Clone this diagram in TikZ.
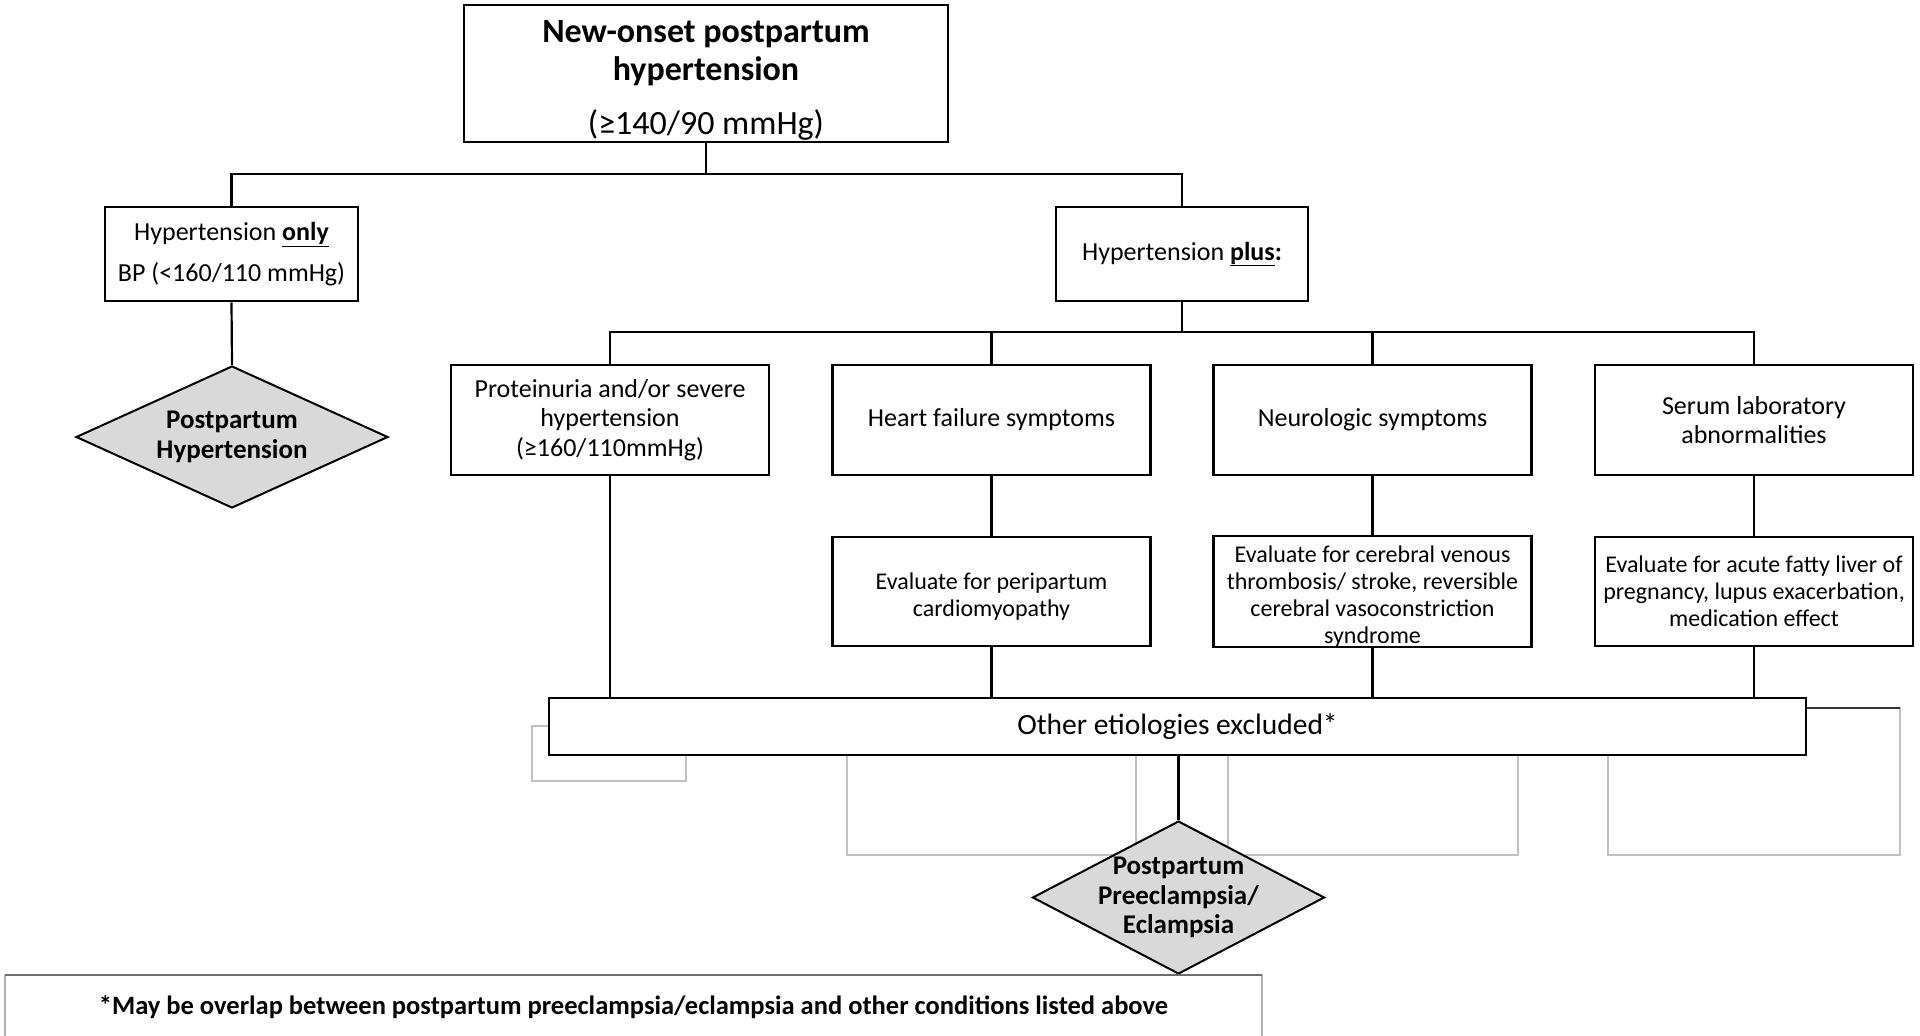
\documentclass[tikz,border=0pt]{standalone}
\usepackage{fontspec}
\setmainfont{Carlito}
\usetikzlibrary{shapes.geometric}
\definecolor{diafill}{RGB}{217,217,217}
\definecolor{faint}{RGB}{192,192,192}
\definecolor{footline}{RGB}{110,110,110}
\definecolor{footside}{RGB}{175,175,175}
\begin{document}
\begin{tikzpicture}[x=1pt,y=-1pt,
  box/.style={draw, line width=2.8pt, fill=white, inner sep=0pt, align=center},
  rowbox/.style={box, minimum width=318pt, minimum height=110pt, font=\fontsize{26}{29.5}\selectfont},
  evalbox/.style={box, minimum width=318pt, minimum height=109pt, font=\fontsize{24}{27}\selectfont},
  conn/.style={line width=2.2pt},
  dia/.style={draw, diamond, line width=2pt, fill=diafill, inner sep=-10pt, align=center, font=\bfseries\fontsize{27}{29.5}\selectfont},
  faintbox/.style={draw=faint, line width=1.2pt}
]
\useasboundingbox (0,0) rectangle (1920,1036);
\clip (0,0) rectangle (1920,1036);

% faint background rectangles
\draw[faintbox] (532,726) rectangle (686,781);
\draw[faintbox] (847,745) rectangle (1136,855);
\draw[faintbox] (1228,745) rectangle (1518,855);
\draw[faintbox] (1608,708) rectangle (1900,855);
\draw[black!80, line width=1.5pt] (1800,708) -- (1900,708);

% nodes
\node[box, minimum width=484pt, minimum height=137pt, font=\fontsize{34}{38}\selectfont] (top) at (706,73.5)
  {\rule{0pt}{35pt}\textbf{New-onset postpartum}\\\textbf{hypertension}\\[16pt](≥140/90 mmHg)};
\node[box, minimum width=253pt, minimum height=94pt, font=\fontsize{26}{41}\selectfont] (only) at (231.5,254)
  {Hypertension \underline{\textbf{only}}\\BP (<160/110 mmHg)};
\node[box, minimum width=252pt, minimum height=94pt, font=\fontsize{26}{30}\selectfont] (plus) at (1182,254)
  {Hypertension \underline{\textbf{plus}}\textbf{:}};
\node[dia, shape aspect=2.2, minimum width=312pt, minimum height=142pt] (d1) at (232,437) {Postpartum\\Hypertension};

\node[rowbox] (pa) at (610,420) {Proteinuria and/or severe\\hypertension\\(≥160/110mmHg)};
\node[rowbox] (hf) at (991.5,420) {Heart failure symptoms};
\node[rowbox] (neu) at (1372.5,420) {Neurologic symptoms};
\node[rowbox] (ser) at (1754,420) {Serum laboratory\\abnormalities};

\node[evalbox] (hfe) at (991.5,591.5) {\rule{0pt}{26pt}Evaluate for peripartum\\cardiomyopathy};
\node[evalbox] (neue) at (1372.5,591.5) {\rule{0pt}{26pt}Evaluate for cerebral venous\\thrombosis/ stroke, reversible\\cerebral vasoconstriction\\syndrome};
\node[evalbox] (sere) at (1754,591.5) {Evaluate for acute fatty liver of\\pregnancy, lupus exacerbation,\\medication effect};

\node[box, minimum width=1257pt, minimum height=57pt, font=\fontsize{29.5}{34}\selectfont] (other) at (1177.5,726.5) {Other etiologies excluded*};
\node[dia, shape aspect=1.9, minimum width=292pt, minimum height=153pt] (d2) at (1178.5,897.5) {Postpartum\\Preeclampsia/\\Eclampsia};

% footnote
\draw[footside, line width=1.5pt] (5,1040) -- (5,975);
\draw[footside, line width=1.5pt] (1262,975) -- (1262,1040);
\draw[footline, line width=1.8pt] (5,975) -- (1262,975);
\node[font=\bfseries\fontsize{26.5}{30}\selectfont] (foot) at (633.5,1007) {*May be overlap between postpartum preeclampsia/eclampsia and other conditions listed above};

% connectors
\coordinate (j1) at (706,174);
\coordinate (j2) at (1182,332);
\draw[conn] (top.south) -- (j1);
\draw[conn] (only.north) -- (only.north |- j1) -- (plus.north |- j1) -- (plus.north);
\draw[conn] (only.south) -- (d1.north);
\draw[conn] (plus.south) -- (j2);
\draw[conn] (pa.north) -- (pa.north |- j2) -- (ser.north |- j2) -- (ser.north);
\draw[conn] (hf.north) -- (hf.north |- j2);
\draw[conn] (neu.north) -- (neu.north |- j2);
\draw[conn] (pa.south) -- (pa.south |- other.north);
\draw[conn] (hf.south) -- (hfe.north);
\draw[conn] (neu.south) -- (neue.north);
\draw[conn] (ser.south) -- (sere.north);
\draw[conn] (hfe.south) -- (hfe.south |- other.north);
\draw[conn] (neue.south) -- (neue.south |- other.north);
\draw[conn] (sere.south) -- (sere.south |- other.north);
\draw[conn] (other.south) -- (other.south -| d2.north) -- (d2.north);
\end{tikzpicture}
\end{document}
